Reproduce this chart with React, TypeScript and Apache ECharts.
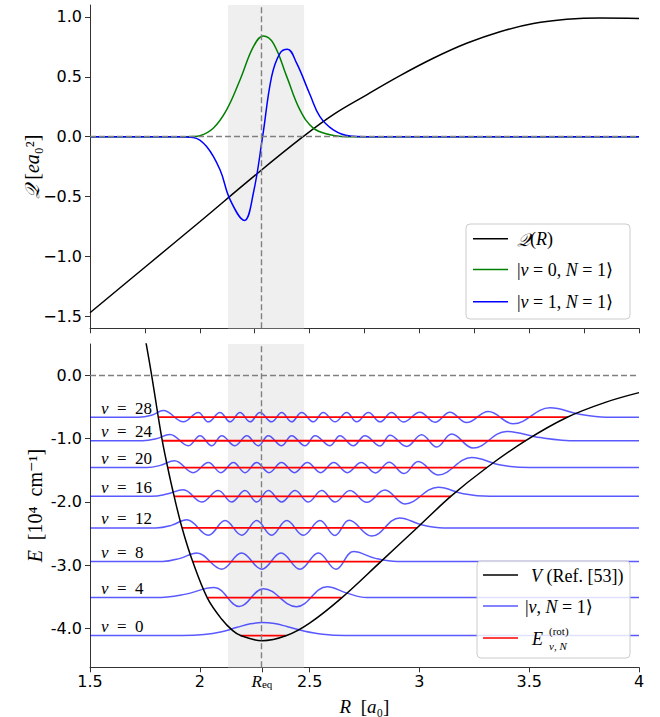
import React, { useEffect, useRef } from 'react';
import * as echarts from 'echarts';

// ---------- data ----------
const R_MIN = 1.5;
const R_MAX = 4;
const R_EQ = 2.283;
const SHADE = [2.128, 2.475];

const topXTicks = [1.5, 1.75, 2, 2.25, 2.5, 2.75, 3, 3.25, 3.5, 3.75, 4];
const topYTicks = [-1.5, -1, -0.5, 0, 0.5, 1];
const botXTicks = [1.5, 2, R_EQ, 2.5, 3, 3.5, 4];
const botYTicks = [-4, -3, -2, -1, 0];

// quadrupole moment Q(R)
const qCurve = [
  [1.5, -1.47], [1.75, -1.09], [2.0, -0.71], [2.25, -0.325], [2.47, 0.0], [2.608, 0.185],
  [2.76, 0.35], [2.912, 0.51], [3.063, 0.655], [3.215, 0.78], [3.367, 0.877], [3.519, 0.945],
  [3.671, 0.98], [3.822, 0.992], [4.0, 0.988],
];
// |v=0,N=1>
const psi0 = [
  [1.5, 0], [1.9, 0], [1.97, 0.002], [2.0, 0.008], [2.061, 0.07], [2.122, 0.224], [2.183, 0.474],
  [2.244, 0.752], [2.289, 0.842], [2.335, 0.78], [2.396, 0.502], [2.456, 0.224], [2.517, 0.072],
  [2.593, 0.016], [2.65, 0.002], [2.7, 0], [4, 0],
];
// |v=1,N=1>
const psi1 = [
  [1.5, 0], [1.9, 0], [1.97, -0.006], [2.031, -0.082], [2.092, -0.276], [2.138, -0.526],
  [2.203, -0.699], [2.244, -0.47], [2.286, 0.0], [2.327, 0.502], [2.365, 0.697], [2.399, 0.731],
  [2.441, 0.614], [2.502, 0.35], [2.547, 0.168], [2.608, 0.058], [2.684, 0.006], [2.75, 0], [4, 0],
];

// potential V(R) in 10^4 cm^-1
const potential = [
  [1.75, 0.62], [1.781, 0.0], [1.811, -0.66], [1.829, -1.03], [1.854, -1.46], [1.883, -1.91],
  [1.919, -2.41], [1.968, -2.95], [2.034, -3.52], [2.1, -3.86], [2.15, -4.04], [2.186, -4.117],
  [2.283, -4.2], [2.395, -4.117], [2.5, -3.92], [2.646, -3.52], [2.823, -2.95], [2.99, -2.41],
  [3.144, -1.91], [3.306, -1.46], [3.484, -1.03], [3.673, -0.66], [3.85, -0.42], [4.0, -0.27],
];

const vNumbers = [0, 4, 8, 12, 16, 20, 24, 28];
const levels = [-4.117, -3.515, -2.945, -2.412, -1.912, -1.457, -1.032, -0.659];
const turnLeft = [2.186, 2.036, 1.968, 1.919, 1.883, 1.854, 1.829, 1.811];
const turnRight = [2.392, 2.646, 2.823, 2.99, 3.144, 3.306, 3.484, 3.675];

// wavefunction displacement from its level: [R, offset]
const wave0 = [
  [1.5, 0], [1.92, 0], [2.02, 0.015], [2.1, 0.06], [2.17, 0.13], [2.23, 0.185], [2.283, 0.206],
  [2.34, 0.19], [2.4, 0.14], [2.47, 0.075], [2.56, 0.02], [2.66, 0], [4, 0],
];
const wave4 = [
  [1.5, 0], [1.8, 0], [1.93, 0.05], [2.065, 0.158], [2.18, -0.142], [2.29, 0.14], [2.44, -0.145],
  [2.58, 0.172], [2.67, 0.07], [2.76, 0], [4, 0],
];
const wave8 = [
  [1.5, 0], [1.83, 0], [1.91, 0.05], [1.986, 0.137], [2.1, -0.121], [2.19, 0.137], [2.282, -0.121],
  [2.37, 0.137], [2.456, -0.121], [2.54, 0.137], [2.62, -0.121], [2.7, 0.158], [2.8, 0.05],
  [2.9, 0], [4, 0],
];
const wave12 = [
  [1.5, 0], [1.8, 0], [1.87, 0.04], [1.94, 0.127], [2.039, -0.116], [2.115, 0.116], [2.191, -0.116],
  [2.259, 0.116], [2.327, -0.116], [2.396, 0.116], [2.471, -0.116], [2.547, 0.116], [2.615, -0.12],
  [2.68, 0.12], [2.783, -0.13], [2.91, 0.158], [3.01, 0.05], [3.11, 0], [4, 0],
];
const wave16 = [
  [1.5, 0], [1.78, 0], [1.85, 0.035], [1.925, 0.105], [2.009, -0.09], [2.084, 0.09], [2.145, -0.09],
  [2.206, 0.09], [2.259, -0.09], [2.312, 0.09], [2.373, -0.09], [2.434, 0.09], [2.494, -0.09],
  [2.555, 0.09], [2.616, -0.09], [2.684, 0.09], [2.76, -0.095], [2.843, 0.1], [2.934, -0.12],
  [3.086, 0.143], [3.2, 0.04], [3.32, 0], [4, 0],
];
const wave20 = [
  [1.5, 0], [1.76, 0], [1.82, 0.035], [1.885, 0.11], [1.97, -0.08], [2.039, 0.08], [2.096, -0.08],
  [2.153, 0.08], [2.206, -0.08], [2.259, 0.08], [2.315, -0.08], [2.372, 0.08], [2.431, -0.08],
  [2.49, 0.08], [2.55, -0.08], [2.61, 0.08], [2.672, -0.08], [2.735, 0.08], [2.8, -0.085],
  [2.862, 0.085], [2.93, -0.095], [2.995, 0.095], [3.085, -0.116], [3.238, 0.158], [3.37, 0.04],
  [3.5, 0], [4, 0],
];
const wave24 = [
  [1.5, 0], [1.74, 0], [1.8, 0.03], [1.864, 0.1], [1.948, -0.079], [2.001, 0.079], [2.054, -0.079],
  [2.1, 0.079], [2.16, -0.079], [2.214, 0.079], [2.266, -0.079], [2.312, 0.079], [2.373, -0.079],
  [2.418, 0.079], [2.479, -0.079], [2.525, 0.079], [2.593, -0.079], [2.638, 0.079], [2.699, -0.079],
  [2.752, 0.079], [2.821, -0.082], [2.866, 0.085], [2.942, -0.09], [3.01, 0.095], [3.079, -0.1],
  [3.147, 0.105], [3.245, -0.116], [3.397, 0.148], [3.55, 0.05], [3.716, 0], [4, 0],
];
const wave28 = [
  [1.5, 0], [1.72, 0], [1.78, 0.03], [1.834, 0.105], [1.925, -0.074], [1.993, 0.074], [2.039, -0.074],
  [2.092, 0.074], [2.138, -0.074], [2.183, 0.074], [2.229, -0.074], [2.274, 0.074], [2.327, -0.074],
  [2.373, 0.074], [2.418, -0.074], [2.464, 0.074], [2.517, -0.074], [2.562, 0.074], [2.616, -0.074],
  [2.669, 0.074], [2.714, -0.074], [2.768, 0.074], [2.821, -0.074], [2.873, 0.074], [2.927, -0.076],
  [3.002, 0.078], [3.071, -0.08], [3.139, 0.08], [3.215, -0.085], [3.314, 0.09], [3.427, -0.105],
  [3.595, 0.148], [3.73, 0.045], [3.85, 0], [4, 0],
];
const waves = [wave0, wave4, wave8, wave12, wave16, wave20, wave24, wave28];

// ---------- styling ----------
const SERIF = "'Liberation Serif', 'DejaVu Serif', serif";
const SANS = "'DejaVu Sans', sans-serif";
const AXIS = '#333333';
const WAVE = 'rgba(0,0,255,0.65)';
const DASH = { color: '#808080', width: 1.4, type: [6, 3] };

const italic = (size: number) => ({ fontStyle: 'italic', fontFamily: SERIF, fontSize: size, fill: '#000', color: '#000' });
const roman = (size: number) => ({ fontFamily: SERIF, fontSize: size, fill: '#000', color: '#000' });

function txt(x: number, y: number, text: string, size = 17, extra: any = {}) {
  return {
    type: 'text', x, y, z: 100, silent: true, ...extra,
    style: {
      text, fill: '#000', fontFamily: SERIF, fontSize: size,
      align: extra.align || 'left', verticalAlign: 'middle',
      textAlign: extra.align || 'left', textVerticalAlign: 'middle',
      rich: {
        i: italic(size), r: roman(size),
        q: { fontFamily: "'DejaVu Serif', serif", fontStyle: 'italic', fontSize: size, fill: '#000' },
      },
    },
  };
}
function seg(x1: number, x2: number, y: number, color: string) {
  return { type: 'line', z: 100, silent: true, shape: { x1, y1: y, x2, y2: y }, style: { stroke: color, lineWidth: 1.6 } };
}
function box(x: number, y: number, w: number, h: number) {
  return {
    type: 'rect', z: 99, silent: true, shape: { x, y, width: w, height: h, r: 4 },
    style: { fill: 'rgba(255,255,255,0.82)', stroke: '#cccccc', lineWidth: 1 },
  };
}

function buildOption() {
  const lineBase = { type: 'line', showSymbol: false, symbol: 'none', silent: true, smooth: 0.4 };

  const series: any[] = [
    {
      ...lineBase, name: 'Q(R)', xAxisIndex: 0, yAxisIndex: 0, data: qCurve,
      lineStyle: { color: '#000', width: 1.5 },
      markArea: { silent: true, itemStyle: { color: '#efefef' }, data: [[{ xAxis: SHADE[0] }, { xAxis: SHADE[1] }]] },
      markLine: { silent: true, symbol: ['none', 'none'], label: { show: false }, lineStyle: DASH, data: [{ yAxis: 0 }, { xAxis: R_EQ }] },
    },
    { ...lineBase, name: '|v=0,N=1>', xAxisIndex: 0, yAxisIndex: 0, data: psi0, lineStyle: { color: '#008000', width: 1.5 } },
    { ...lineBase, name: '|v=1,N=1>', xAxisIndex: 0, yAxisIndex: 0, data: psi1, lineStyle: { color: '#0000ff', width: 1.5 } },
  ];

  waves.forEach((w, i) => {
    const s: any = {
      ...lineBase, name: '|v,N=1>', xAxisIndex: 1, yAxisIndex: 1,
      data: w.map(([r, d]) => [r, levels[i] + d]),
      lineStyle: { color: WAVE, width: 1.5 },
    };
    if (i === 0) {
      s.markArea = { silent: true, itemStyle: { color: '#efefef' }, data: [[{ xAxis: SHADE[0] }, { xAxis: SHADE[1] }]] };
      s.markLine = { silent: true, symbol: ['none', 'none'], label: { show: false }, lineStyle: DASH, data: [{ yAxis: 0 }, { xAxis: R_EQ }] };
    }
    series.push(s);
  });
  levels.forEach((e, i) => {
    series.push({
      ...lineBase, smooth: false, name: 'E_rot', xAxisIndex: 1, yAxisIndex: 1,
      data: [[turnLeft[i], e], [turnRight[i], e]],
      lineStyle: { color: '#ff0000', width: 1.8 },
    });
  });
  series.push({
    ...lineBase, smooth: 0.35, name: 'V', xAxisIndex: 1, yAxisIndex: 1, data: potential,
    lineStyle: { color: '#000', width: 1.5 },
  });
  series.push({
    type: 'scatter', name: 'labels', xAxisIndex: 1, yAxisIndex: 1, silent: true, symbolSize: 0.01,
    itemStyle: { color: '#ffffff', opacity: 1 }, z: 6,
    data: levels.map((e, i) => ({ value: [R_MIN, e], name: String(vNumbers[i]) })),
    label: {
      show: true, position: 'right', distance: 11, offset: [0, -9], color: '#000', opacity: 1,
      textBorderWidth: 0, fontFamily: SERIF, fontSize: 17,
      formatter: (p: any) => `{i|v}{r|  =  ${p.name}}`,
      rich: { i: italic(17), r: roman(17) },
    },
  });

  const axisLine = { show: true, onZero: false, lineStyle: { color: AXIS, width: 1 } };
  const tick = (vals: number[]) => ({ show: true, customValues: vals, length: 5, lineStyle: { color: AXIS, width: 1 } });
  const labelStyle = { fontFamily: SANS, fontSize: 16, color: '#000' };

  return {
    animation: false,
    backgroundColor: '#ffffff',
    grid: [
      { left: 90, top: 5, width: 549, height: 323.3, outerBoundsMode: 'none', containLabel: false },
      { left: 90, top: 344, width: 549, height: 323.3, outerBoundsMode: 'none', containLabel: false },
    ],
    xAxis: [
      {
        gridIndex: 0, type: 'value', min: R_MIN, max: R_MAX, axisLine, axisTick: tick(topXTicks),
        axisLabel: { show: false }, splitLine: { show: false },
      },
      {
        gridIndex: 1, type: 'value', min: R_MIN, max: R_MAX, axisLine, axisTick: tick(botXTicks),
        axisLabel: {
          ...labelStyle, customValues: botXTicks, margin: 6,
          formatter: (v: number) => (Math.abs(v - R_EQ) < 1e-6 ? '{R|R}{s|eq}' : String(v)),
          rich: {
            R: { ...italic(17), lineHeight: 16 },
            s: { fontFamily: SERIF, fontSize: 11, color: '#000', verticalAlign: 'bottom', lineHeight: 6 },
          },
        },
        splitLine: { show: false },
      },
    ],
    yAxis: [
      {
        gridIndex: 0, type: 'value', min: -1.6, max: 1.1, axisLine, axisTick: tick(topYTicks),
        axisLabel: {
          ...labelStyle, customValues: topYTicks, margin: 8,
          formatter: (v: number) => (v < 0 ? '\u2212' : '') + Math.abs(v).toFixed(1),
        },
        splitLine: { show: false },
      },
      {
        gridIndex: 1, type: 'value', min: -4.62, max: 0.5, axisLine, axisTick: tick(botYTicks),
        axisLabel: { ...labelStyle, customValues: botYTicks, margin: 8, formatter: (v: number) => v.toFixed(1) },
        splitLine: { show: false },
      },
    ],
    series,
    graphic: [
      // axis titles
      txt(32, 166.6, '{q|\u{1D4AC}} [{i|ea}\u2080\u00B2]', 20, { rotation: Math.PI / 2, align: 'center' }),
      txt(35, 505.6, '{i|E}  [10\u2074  cm\u207B\u00B9]', 20, { rotation: Math.PI / 2, align: 'center' }),
      txt(364.5, 706, '{i|R}  [{i|a}\u2080]', 19, { align: 'center' }),
      // top legend
      box(466, 224, 164, 95),
      seg(473, 508, 238.7, '#000000'),
      seg(473, 508, 269.5, '#008000'),
      seg(473, 508, 301.7, '#0000ff'),
      txt(517, 239, '{q|\u{1D4AC}}({i|R})', 18),
      txt(517, 270, '|{i|v} = 0, {i|N} = 1\u27E9', 18),
      txt(517, 302, '|{i|v} = 1, {i|N} = 1\u27E9', 18),
      // bottom legend
      box(477, 561, 153, 97),
      seg(483, 518, 575, '#000000'),
      seg(483, 518, 606, WAVE),
      seg(483, 518, 638, '#ff0000'),
      txt(531, 575.5, '{i|V} (Ref. [53])', 18),
      txt(525, 606.5, '|{i|v}, {i|N} = 1\u27E9', 18),
      txt(532, 639, '{i|E}', 18),
      txt(549, 631, '(rot)', 11),
      txt(549, 646, '{i|v}, {i|N}', 11, {}),
    ],
  };
}

export default function App() {
  const ref = useRef<HTMLDivElement>(null);
  useEffect(() => {
    if (!ref.current) return;
    const chart = echarts.init(ref.current, null, { renderer: 'svg' });
    chart.setOption(buildOption() as any);
    return () => chart.dispose();
  }, []);
  return (
    <div
      ref={ref}
      style={{ position: 'absolute', left: 0, top: 0, width: 660, height: 717, background: '#fff' }}
    />
  );
}
